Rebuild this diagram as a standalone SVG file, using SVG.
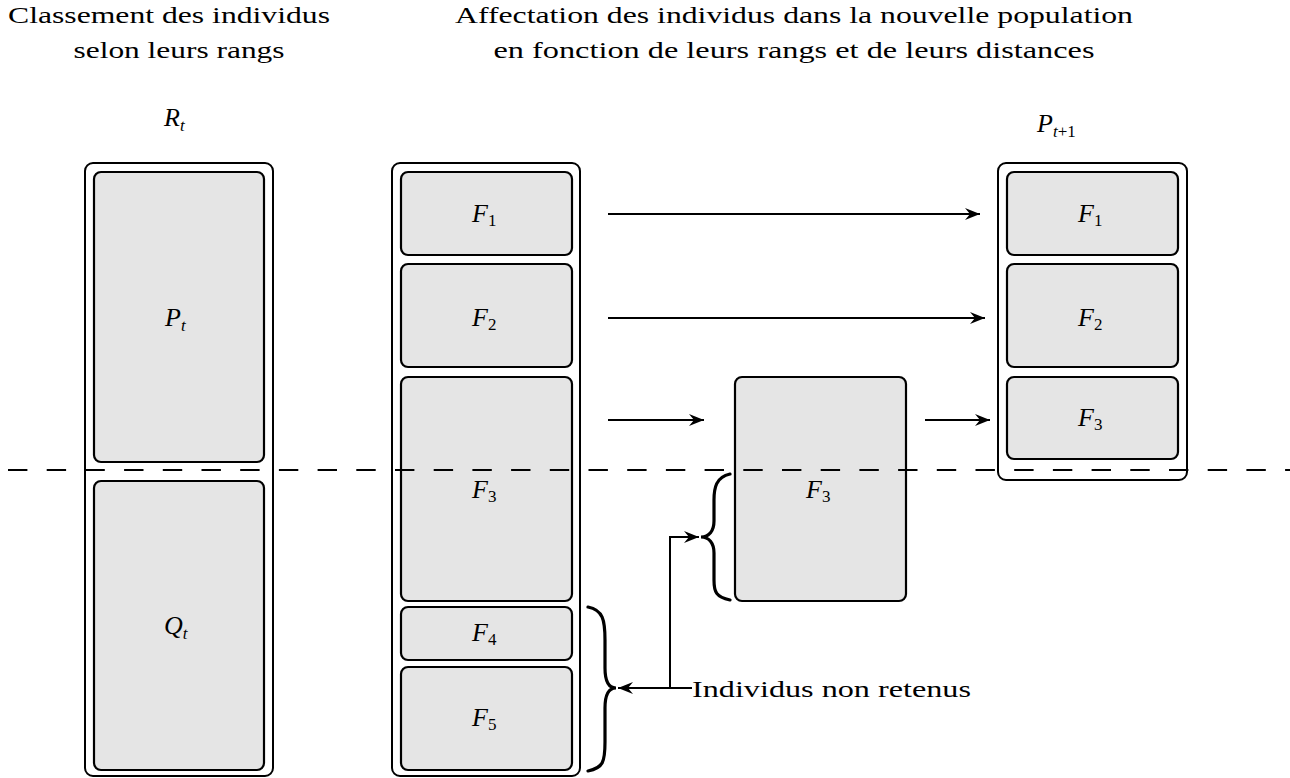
<svg xmlns="http://www.w3.org/2000/svg" width="1290" height="778" viewBox="0 0 1290 778">
<style>
.outer{fill:#fff;stroke:#000;stroke-width:2}
.inner{fill:#e5e5e5;stroke:#000;stroke-width:2.2}
.title{font-family:"Liberation Serif","DejaVu Serif",serif;font-size:24px;fill:#000}
.math{font-family:"Liberation Serif","DejaVu Serif",serif;font-style:italic;font-size:26px;fill:#000}
.sub{font-style:normal;font-size:17px}
.subi{font-size:17px}
.conn{fill:none;stroke:#000;stroke-width:2}
.brace{fill:none;stroke:#000;stroke-width:3.2;stroke-linecap:round}
</style>
<defs>
<marker id="ah" markerWidth="18" markerHeight="14" viewBox="-16 -7 18 14" refX="0" refY="0" orient="auto" markerUnits="userSpaceOnUse">
<path d="M0,0 L-15,-6 L-10,0 L-15,6 z" fill="#000"/>
</marker>
</defs>
<rect width="1290" height="778" fill="#fff"/>
<g id="titles">
<text class="title" x="169" y="23" text-anchor="middle" textLength="322" lengthAdjust="spacingAndGlyphs">Classement des individus</text>
<text class="title" x="179" y="58" text-anchor="middle" textLength="211" lengthAdjust="spacingAndGlyphs">selon leurs rangs</text>
<text class="title" x="794" y="23" text-anchor="middle" textLength="678" lengthAdjust="spacingAndGlyphs">Affectation des individus dans la nouvelle population</text>
<text class="title" x="794" y="58" text-anchor="middle" textLength="601" lengthAdjust="spacingAndGlyphs">en fonction de leurs rangs et de leurs distances</text>
</g>
<g id="Rt">
<rect class="outer" x="85" y="163" width="188" height="613" rx="8"/>
<text class="math" x="164" y="126">R<tspan class="subi" dy="5">t</tspan></text>
</g>
<g id="Pt">
<rect class="inner" x="94" y="172" width="170" height="290" rx="7"/>
<text class="math" x="165" y="326">P<tspan class="subi" dy="5">t</tspan></text>
</g>
<g id="Qt">
<rect class="inner" x="94" y="481" width="170" height="289" rx="7"/>
<text class="math" x="164" y="634">Q<tspan class="subi" dy="5">t</tspan></text>
</g>
<g id="middle">
<rect class="outer" x="392" y="163" width="188" height="613" rx="8"/>
</g>
<g id="mF1">
<rect class="inner" x="401" y="172" width="171" height="83" rx="7"/>
<text class="math" x="472" y="222">F<tspan class="sub" dy="4">1</tspan></text>
</g>
<g id="mF2">
<rect class="inner" x="401" y="264" width="171" height="103" rx="7"/>
<text class="math" x="472" y="326">F<tspan class="sub" dy="4">2</tspan></text>
</g>
<g id="mF3">
<rect class="inner" x="401" y="377" width="171" height="224" rx="7"/>
<text class="math" x="472" y="498">F<tspan class="sub" dy="4">3</tspan></text>
</g>
<g id="mF4">
<rect class="inner" x="401" y="607" width="171" height="53" rx="7"/>
<text class="math" x="472" y="641">F<tspan class="sub" dy="4">4</tspan></text>
</g>
<g id="mF5">
<rect class="inner" x="401" y="667" width="171" height="103" rx="7"/>
<text class="math" x="472" y="726">F<tspan class="sub" dy="4">5</tspan></text>
</g>
<g id="fF3">
<rect class="inner" x="735" y="377" width="171" height="224" rx="7"/>
<text class="math" x="806" y="498">F<tspan class="sub" dy="4">3</tspan></text>
</g>
<g id="Pt1">
<rect class="outer" x="998" y="163" width="189" height="317" rx="8"/>
<text class="math" x="1037" y="132">P<tspan class="subi" dy="5">t</tspan><tspan class="sub">+1</tspan></text>
</g>
<g id="rF1">
<rect class="inner" x="1007" y="172" width="171" height="83" rx="7"/>
<text class="math" x="1078" y="222">F<tspan class="sub" dy="4">1</tspan></text>
</g>
<g id="rF2">
<rect class="inner" x="1007" y="264" width="171" height="103" rx="7"/>
<text class="math" x="1078" y="326">F<tspan class="sub" dy="4">2</tspan></text>
</g>
<g id="rF3">
<rect class="inner" x="1007" y="377" width="171" height="82" rx="7"/>
<text class="math" x="1078" y="426">F<tspan class="sub" dy="4">3</tspan></text>
</g>
<g id="separator">
<line x1="8" y1="470" x2="1290" y2="470" stroke="#000" stroke-width="2" stroke-dasharray="19.4 19.3"/>
</g>
<g id="connectors">
<line class="conn" x1="608" y1="214" x2="980" y2="214" marker-end="url(#ah)"/>
<line class="conn" x1="608" y1="318" x2="985" y2="318" marker-end="url(#ah)"/>
<line class="conn" x1="608" y1="420" x2="704" y2="420" marker-end="url(#ah)"/>
<line class="conn" x1="925" y1="420" x2="990" y2="420" marker-end="url(#ah)"/>
<line class="conn" x1="692" y1="688" x2="618" y2="688" marker-end="url(#ah)"/>
<polyline class="conn" points="670,688 670,537 699,537" marker-end="url(#ah)"/>
<path class="brace" d="M588,607 C603,610 605,620 605,640 L605,668 C605,682 609,688 616,688 C609,688 605,694 605,708 L605,742 C605,762 603,768 588,771"/>
<path class="brace" d="M730,474 C716,477 714,488 714,500 L714,521 C714,531 709,537 701,537 C709,537 714,543 714,553 L714,580 C714,592 716,597 730,600"/>
</g>
<g id="label">
<text class="title" x="692" y="697" textLength="279" lengthAdjust="spacingAndGlyphs">Individus non retenus</text>
</g>
</svg>
